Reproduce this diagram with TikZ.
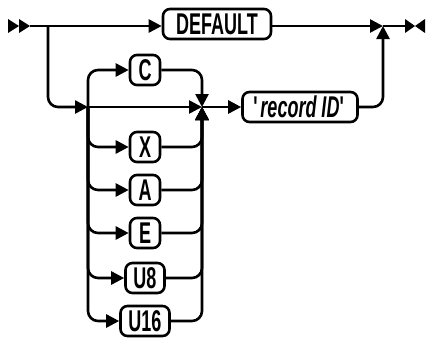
\documentclass[tikz,border=0pt]{standalone}
\usepackage{fontspec}
\setmainfont{Liberation Sans}[FakeStretch=0.6]
\usetikzlibrary{arrows.meta}
\tikzset{
  opt/.style={draw,rounded corners=3.5pt,line width=1.3pt,inner xsep=4pt,inner ysep=1pt,
    minimum height=15pt,minimum width=15pt,font=\fontsize{15}{17}\selectfont\bfseries},
  rail/.style={line width=1.3pt,rounded corners=5pt},
  tip/.style={-{Triangle[length=6.5pt,width=6.5pt]}},
}
\begin{document}
\begin{tikzpicture}[x=0.5pt,y=-0.5pt]
\useasboundingbox (0,0) rectangle (427,337);
\node[opt,minimum width=54pt] (dflt) at (217,24) {DEFAULT};
\node[opt,minimum width=57.5pt] (rec) at (300,107) {\textquotesingle\textit{record ID}\textquotesingle};
\foreach \n/\t/\y in {c/C/70,x/X/147,a/A/190,e/E/233,ueight/U8/278,usixteen/U16/321}
  \node[opt] (\n) at (145,\y) {\t};
\coordinate (st) at (30,26);
\coordinate (br) at (48,26);
\coordinate (sl) at (88,107);
\coordinate (sr) at (202,107);
\coordinate (jn) at (383,26);
\coordinate (en) at (405,26);
% start and end marks
\fill (8,19) -- (19,26) -- (8,33) -- cycle (19,19) -- (30,26) -- (19,33) -- cycle;
\fill (405,19) -- (415,26) -- (405,33) -- cycle (425,19) -- (415,26) -- (425,33) -- cycle;
\draw[rail,tip] (st) -- (st -| dflt.west);
\draw[rail,tip] (st -| dflt.east) -- (jn);
\draw[rail] (jn) -- (en);
\draw[rail,tip] (br) |- (sl);
\foreach \n in {c,x,a,e,ueight,usixteen} {
  \draw[rail,tip] (sl) |- (\n.west);
  \draw[rail,tip] (\n.east) -| (sr);
}
\draw[rail,tip] (sl) -- (sr);
\draw[rail,tip] (sr) -- (rec);
\draw[rail,tip] (rec) -| (jn);
\end{tikzpicture}
\end{document}
